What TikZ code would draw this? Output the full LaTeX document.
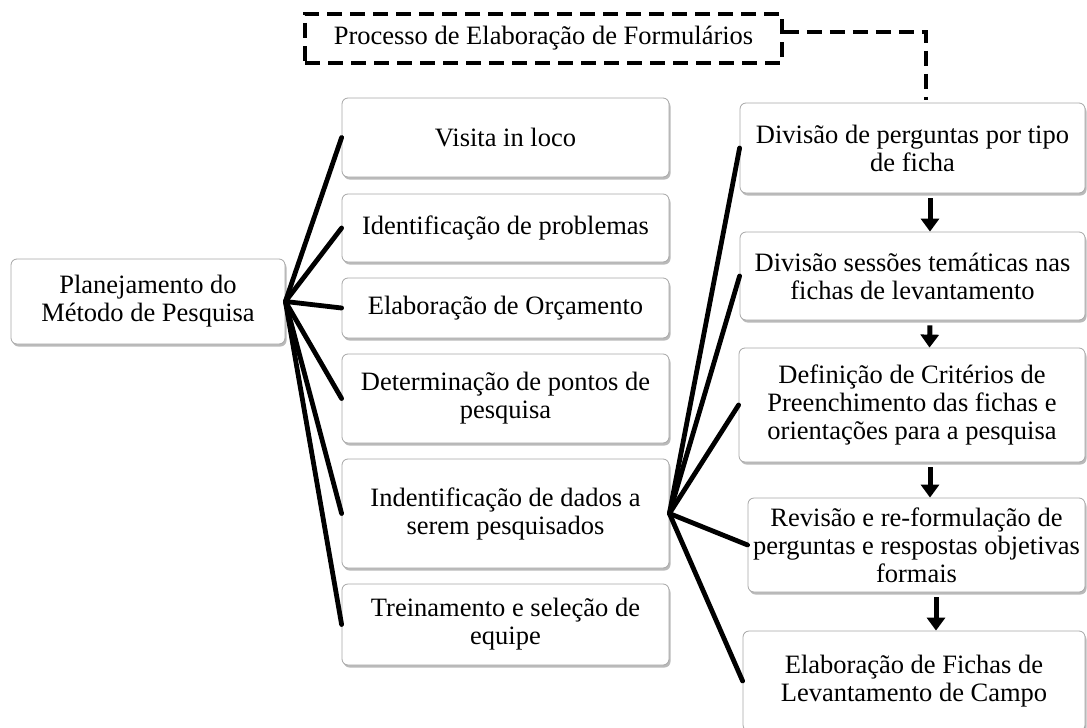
\documentclass[tikz,border=0pt]{standalone}
\usepackage{fontspec}
\setmainfont{Liberation Serif}
\usetikzlibrary{arrows.meta,shadows}

\tikzset{
	stepbox/.style={draw=black!35, line width=0.8pt, rounded corners=6pt, fill=white,
		drop shadow={shadow xshift=1.5pt, shadow yshift=-2.5pt, fill=black!45, opacity=0.6},
		align=center, inner sep=0pt, font=\fontsize{26.5}{28}\selectfont},
	fan/.style={line width=4.8pt, line cap=round},
	flow/.style={line width=5pt, -{Triangle[width=18pt,length=13pt]}, shorten <=5pt},
	dashline/.style={line width=3.5pt, dash pattern=on 15pt off 8pt}
}

\begin{document}
\begin{tikzpicture}[x=1pt, y=-1pt]
		\useasboundingbox (0, 0) rectangle (1087, 728);
		\node[draw, dashline, minimum width=477pt, minimum height=49pt, inner sep=0pt, font=\fontsize{26.5}{28}\selectfont] (proc) at (543.5, 38.5) {Processo de Elaboração de Formulários};

		\node[stepbox, minimum width=274pt, minimum height=85pt] (plan) at (148, 301.5) {Planejamento do\\Método de Pesquisa};

		\node[stepbox, minimum width=327pt, minimum height=79pt] (visita) at (505.5, 137.5) {Visita in loco};
		\node[stepbox, minimum width=327pt, minimum height=68pt] (ident) at (505.5, 228) {Identificação de problemas};
		\node[stepbox, minimum width=327pt, minimum height=60pt] (orc) at (505.5, 308) {Elaboração de Orçamento};
		\node[stepbox, minimum width=327pt, minimum height=89pt] (determ) at (505.5, 398.5) {Determinação de pontos de\\pesquisa};
		\node[stepbox, minimum width=327pt, minimum height=109pt] (dados) at (505.5, 513.5) {Indentificação de dados a\\serem pesquisados};
		\node[stepbox, minimum width=327pt, minimum height=81pt] (trein) at (505.5, 624.5) {Treinamento e seleção de\\equipe};

		\node[stepbox, minimum width=345pt, minimum height=90pt] (divp) at (912.5, 148) {Divisão de perguntas por tipo\\de ficha};
		\node[stepbox, minimum width=345pt, minimum height=88pt] (divs) at (912.5, 276) {Divisão sessões temáticas nas\\fichas de levantamento};
		\node[stepbox, minimum width=346pt, minimum height=114pt] (defc) at (912, 405) {Definição de Critérios de\\Preenchimento das fichas e\\orientações para a pesquisa};
		\node[stepbox, minimum width=337pt, minimum height=94pt] (revi) at (916.5, 545) {Revisão e re-formulação de\\perguntas e respostas objetivas\\formais};
		\node[stepbox, minimum width=342pt, minimum height=100pt] (elab) at (914, 681) {Elaboração de Fichas de\\Levantamento de Campo};

		\foreach \b in {visita, ident, orc, determ, dados, trein}
			\draw[fan] (plan.east) -- (\b.west);
		\foreach \b in {divp, divs, defc, revi, elab}
			\draw[fan] (dados.east) -- (\b.west);

		\draw[flow] ([xshift=17.5pt]divp.south) -- ([xshift=17.5pt]divs.north);
		\draw[flow] ([xshift=17.5pt]divs.south) -- ([xshift=17.5pt]defc.north);
		\draw[flow] ([xshift=18pt]defc.south) -- ([xshift=18pt]defc.south |- revi.north);
		\draw[flow] ([xshift=19.5pt]revi.south) -- ([xshift=19.5pt]revi.south |- elab.north);

		\draw[dashline] ([yshift=6.5pt]proc.east) -| ([xshift=13.5pt, yshift=3pt]divp.north);
	\end{tikzpicture}
\end{document}
